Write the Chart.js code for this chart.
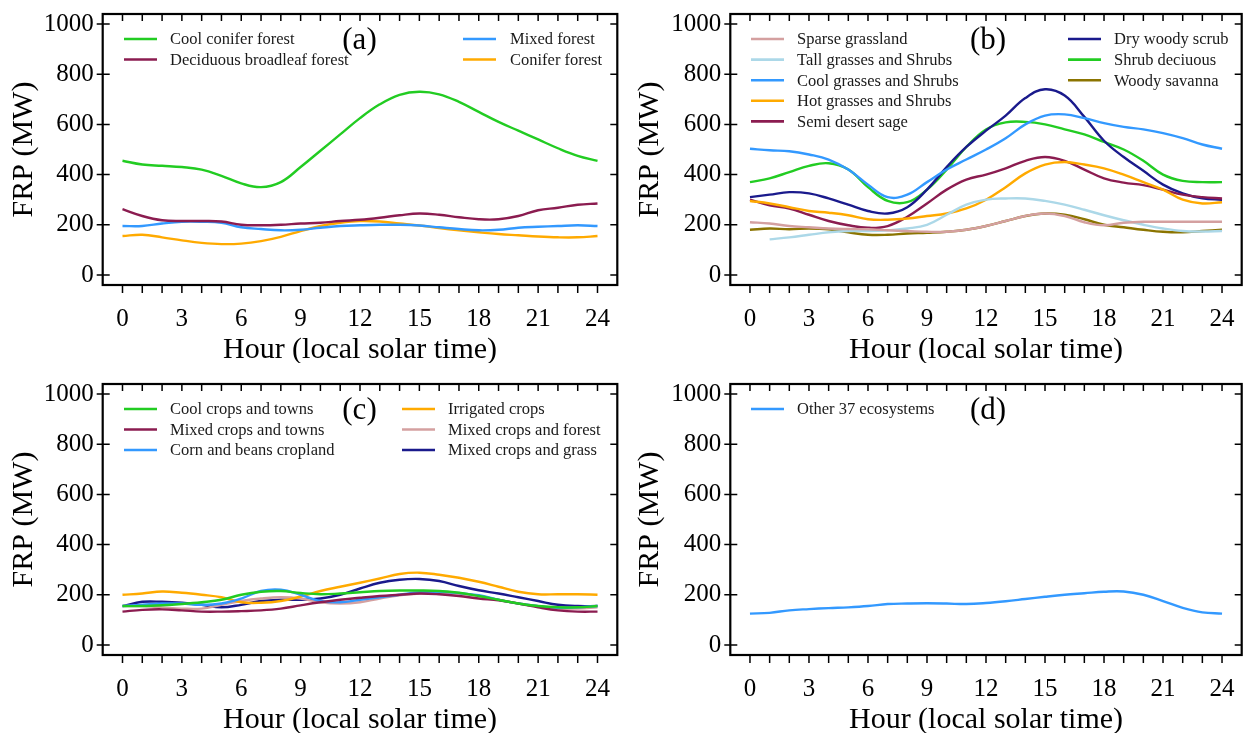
<!DOCTYPE html>
<html>
<head>
<meta charset="utf-8">
<script src="https://cdn.jsdelivr.net/npm/chart.js@4.4.0/dist/chart.umd.min.js"></script>
<style>
  body { margin: 0; background: #fff; width: 1245px; height: 733px; position: relative; overflow: hidden; }
  canvas { position: absolute; }
</style>
</head>
<body>
<canvas id="pa" width="622" height="363" style="left:0;top:0"></canvas>
<canvas id="pb" width="619" height="363" style="left:626px;top:0"></canvas>
<canvas id="pc" width="622" height="363" style="left:0;top:370px"></canvas>
<canvas id="pd" width="619" height="363" style="left:626px;top:370px"></canvas>
<script>
// hours 0..24 (local solar time)
const hours = [0,1,2,3,4,5,6,7,8,9,10,11,12,13,14,15,16,17,18,19,20,21,22,23,24];
const yTicks = [0, 200, 400, 600, 800, 1000];

// (a) forests
const coolConifer   = [455,440,435,430,420,395,365,350,370,430,495,560,625,680,718,730,720,690,650,610,575,540,505,475,455];
const deciduous     = [262,235,218,215,215,213,200,198,200,205,208,215,220,228,238,245,240,230,222,222,235,258,268,280,285];
const mixedForest   = [195,195,205,212,212,208,190,183,178,180,188,195,198,200,200,197,190,183,178,180,188,192,195,198,195];
const coniferForest = [155,160,150,138,128,123,125,135,152,175,195,208,215,213,205,197,187,178,170,163,158,153,150,150,155];

// (b) grasses and shrubs
const sparseGrass   = [210,205,195,190,185,183,182,178,175,172,172,180,195,215,235,245,235,210,198,208,212,212,212,212,212];
const tallGrass     = [null,142,150,160,170,175,175,178,185,200,240,280,300,305,305,295,280,260,238,218,200,185,175,173,175];
const coolGrass     = [503,497,493,480,460,420,360,310,320,370,420,460,500,545,600,635,640,625,605,590,580,565,545,520,503];
const hotGrass      = [295,285,270,255,248,238,222,220,225,235,245,265,300,350,405,440,450,440,425,400,370,340,300,285,290];
const semiDesert    = [300,278,265,240,215,198,188,195,232,285,340,380,400,425,455,470,455,420,385,368,358,340,320,310,305];
const dryScrub      = [310,320,330,325,305,280,255,245,270,340,430,510,575,635,705,740,715,630,535,470,415,360,325,305,300];
const shrubDecid    = [370,385,410,435,445,420,350,295,290,340,420,510,580,608,610,600,580,560,530,500,455,400,375,370,370];
const woodySavanna  = [180,185,182,185,182,170,160,160,165,168,172,180,195,215,235,245,240,222,200,190,180,172,170,175,180];

// (c) crops
const coolCrops     = [155,155,158,163,170,180,200,212,215,207,202,205,210,215,217,217,215,208,195,180,165,155,150,150,155];
const mixedTowns    = [133,140,142,138,133,133,135,138,145,158,170,180,188,195,200,205,202,195,185,178,165,150,138,133,133];
const cornBeans     = [155,160,165,165,160,165,185,215,220,200,175,170,180,190,200,210,212,207,198,180,165,155,148,150,155];
const irrigated     = [200,205,213,208,200,190,170,168,175,193,215,232,248,265,283,288,280,268,252,232,212,202,202,202,200];
const mixedForestCr = [155,155,150,145,145,160,175,185,190,185,170,165,170,185,198,205,208,205,195,180,165,155,145,145,150];
const mixedGrass    = [155,172,172,168,160,150,160,175,180,180,185,200,225,248,260,263,255,235,218,205,190,175,160,155,155];

// (d) the rest
const other37       = [125,128,138,143,147,150,155,163,165,166,165,163,167,174,183,192,200,206,212,213,200,175,148,130,125];

const GREEN = '#22cc22', MAROON = '#8b1c50', BLUE = '#3399ff', ORANGE = '#ffaa00',
      ROSY = '#d4a0a0', LIGHTBLUE = '#acd8e8', NAVY = '#1a1a8c', OLIVE = '#8b7400';
const SERIF = "'Liberation Serif', 'Times New Roman', serif";

// box, ticks, legend and panel letter
const framePlugin = {
  id: 'frame',
  afterDraw(chart, args, opts) {
    const ctx = chart.ctx, a = chart.chartArea;
    const xs = chart.scales.x, ys = chart.scales.y;
    ctx.save();
    ctx.strokeStyle = '#000';
    ctx.lineWidth = 1.5;
    ctx.beginPath();
    xs.ticks.forEach(t => {
      const px = xs.getPixelForValue(t.value);
      ctx.moveTo(px, a.bottom); ctx.lineTo(px, a.bottom + 8);
      ctx.moveTo(px, a.top); ctx.lineTo(px, a.top + 7);
    });
    ys.ticks.forEach(t => {
      const py = ys.getPixelForValue(t.value);
      ctx.moveTo(a.left - 6, py); ctx.lineTo(a.left + 7, py);
      ctx.moveTo(a.right, py); ctx.lineTo(a.right - 7, py);
    });
    ctx.stroke();
    ctx.lineWidth = 2.2;
    ctx.strokeRect(a.left, a.top, a.right - a.left, a.bottom - a.top);

    // legend in columns
    ctx.font = '16.5px ' + SERIF;
    ctx.textBaseline = 'middle';
    ctx.textAlign = 'left';
    let idx = 0;
    opts.columns.forEach(col => {
      for (let r = 0; r < col.count; r++, idx++) {
        const ds = chart.data.datasets[idx];
        const y = opts.rowTop + r * opts.rowStep;
        ctx.strokeStyle = ds.borderColor;
        ctx.lineWidth = 2.6;
        ctx.beginPath();
        ctx.moveTo(col.line, y); ctx.lineTo(col.line + 33, y);
        ctx.stroke();
        ctx.fillStyle = '#1a1a1a';
        ctx.fillText(ds.label, col.text, y + 1);
      }
    });

    ctx.font = '31px ' + SERIF;
    ctx.fillStyle = '#000';
    ctx.textAlign = 'center';
    ctx.fillText(opts.letter, opts.letterX, opts.rowTop + 2);
    ctx.restore();
  }
};

function makePanel(id, series, boxLeft, padRight, legend) {
  new Chart(document.getElementById(id), {
    type: 'line',
    data: {
      datasets: series.map(s => ({
        label: s.label,
        data: hours.map((h, i) => ({ x: h, y: s.data[i] })),
        borderColor: s.color,
        borderWidth: 2.4,
        pointRadius: 0,
        tension: 0.4,
        fill: false
      }))
    },
    options: {
      responsive: false,
      animation: false,
      events: [],
      layout: { padding: { left: 0, top: 14, right: padRight, bottom: 0 } },
      plugins: { legend: { display: false }, tooltip: { enabled: false }, frame: legend },
      scales: {
        x: {
          type: 'linear', min: -1, max: 25,
          afterBuildTicks: sc => { sc.ticks = hours.map(v => ({ value: v })); },
          afterFit: sc => { sc.height = 78; sc.paddingLeft = 0; sc.paddingRight = 0; },
          grid: { display: false, drawTicks: false },
          border: { display: false },
          ticks: {
            autoSkip: false, maxRotation: 0, padding: 19,
            color: '#000', font: { family: SERIF, size: 25 },
            callback: v => (v % 3 === 0 ? String(v) : '')
          },
          title: {
            display: true, text: 'Hour (local solar time)', color: '#000',
            font: { family: SERIF, size: 30, lineHeight: 1 }, padding: { top: 0, bottom: -2 }
          }
        },
        y: {
          min: -40, max: 1040,
          afterBuildTicks: sc => { sc.ticks = yTicks.map(v => ({ value: v })); },
          afterFit: sc => { sc.width = boxLeft; sc.paddingTop = 0; sc.paddingBottom = 0; },
          grid: { display: false, drawTicks: false },
          border: { display: false },
          ticks: {
            padding: 9, color: '#000', font: { family: SERIF, size: 25 },
            callback: v => String(v)
          },
          title: {
            display: true, text: 'FRP (MW)', color: '#000',
            font: { family: SERIF, size: 30, lineHeight: 1 }, padding: { top: 9, bottom: 0 }
          }
        }
      }
    },
    plugins: [framePlugin]
  });
}

makePanel('pa', [
  { label: 'Cool conifer forest', data: coolConifer, color: GREEN },
  { label: 'Deciduous broadleaf forest', data: deciduous, color: MAROON },
  { label: 'Mixed forest', data: mixedForest, color: BLUE },
  { label: 'Conifer forest', data: coniferForest, color: ORANGE }
], 102.7, 4.7, { letter: '(a)', letterX: 359.5, rowTop: 39, rowStep: 20.5,
  columns: [{ count: 2, line: 124, text: 170 }, { count: 2, line: 463, text: 510 }] });

makePanel('pb', [
  { label: 'Sparse grassland', data: sparseGrass, color: ROSY },
  { label: 'Tall grasses and Shrubs', data: tallGrass, color: LIGHTBLUE },
  { label: 'Cool grasses and Shrubs', data: coolGrass, color: BLUE },
  { label: 'Hot grasses and Shrubs', data: hotGrass, color: ORANGE },
  { label: 'Semi desert sage', data: semiDesert, color: MAROON },
  { label: 'Dry woody scrub', data: dryScrub, color: NAVY },
  { label: 'Shrub deciuous', data: shrubDecid, color: GREEN },
  { label: 'Woody savanna', data: woodySavanna, color: OLIVE }
], 104.3, 3.3, { letter: '(b)', letterX: 362, rowTop: 39, rowStep: 20.6,
  columns: [{ count: 5, line: 125, text: 171 }, { count: 3, line: 442, text: 488 }] });

makePanel('pc', [
  { label: 'Cool crops and towns', data: coolCrops, color: GREEN },
  { label: 'Mixed crops and towns', data: mixedTowns, color: MAROON },
  { label: 'Corn and beans cropland', data: cornBeans, color: BLUE },
  { label: 'Irrigated crops', data: irrigated, color: ORANGE },
  { label: 'Mixed crops and forest', data: mixedForestCr, color: ROSY },
  { label: 'Mixed crops and grass', data: mixedGrass, color: NAVY }
], 102.7, 4.7, { letter: '(c)', letterX: 359.5, rowTop: 39, rowStep: 20.5,
  columns: [{ count: 3, line: 124, text: 170 }, { count: 3, line: 402, text: 448 }] });

makePanel('pd', [
  { label: 'Other 37 ecosystems', data: other37, color: BLUE }
], 104.3, 3.3, { letter: '(d)', letterX: 362, rowTop: 39, rowStep: 20.6,
  columns: [{ count: 1, line: 125, text: 171 }] });
</script>
</body>
</html>
